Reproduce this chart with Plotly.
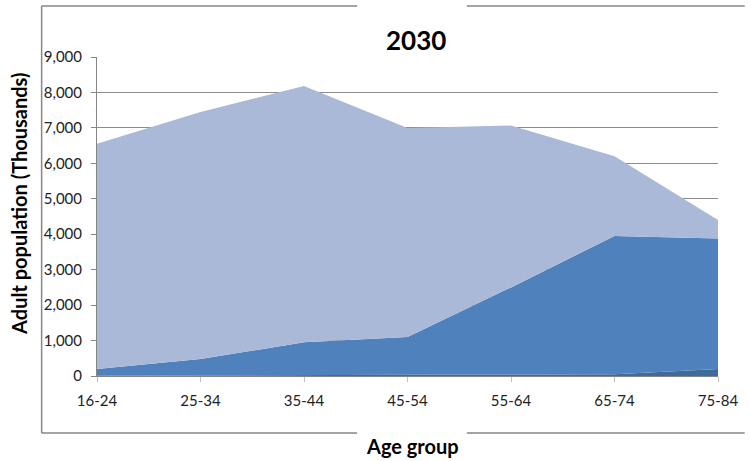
import plotly.graph_objects as go

categories = ["16-24", "25-34", "35-44", "45-54", "55-64", "65-74", "75-84"]
bottom_vals = [5, 10, 20, 25, 40, 50, 200]
middle_vals = [195, 470, 930, 1075, 2460, 3900, 3680]
top_vals = [6350, 6970, 7230, 5900, 4570, 2250, 520]

fig = go.Figure()
for name, vals, col in [("Bottom", bottom_vals, "#3F6A9E"),
                        ("Middle", middle_vals, "#4F81BD"),
                        ("Top", top_vals, "#AAB9D7")]:
    fig.add_trace(go.Scatter(x=categories, y=vals, name=name, mode="lines",
                             stackgroup="one", line=dict(width=0, color=col),
                             fillcolor=col, hoverinfo="x+y"))

L, R, T, B = 97, 25, 57, 85
W, H = 750, 461
pw, ph = W - L - R, H - T - B
def px(x): return (x - L) / pw
def py(y): return (H - B - y) / ph

border = dict(color="#868686", width=1.5)
shapes = [
    dict(type="line", xref="paper", yref="paper", x0=px(41), x1=px(41), y0=py(6), y1=py(433), line=border),
    dict(type="line", xref="paper", yref="paper", x0=px(41), x1=px(360), y0=py(6), y1=py(6), line=border),
    dict(type="line", xref="paper", yref="paper", x0=px(471), x1=px(752), y0=py(6), y1=py(6), line=border),
    dict(type="line", xref="paper", yref="paper", x0=px(41), x1=px(360), y0=py(433), y1=py(433), line=border),
    dict(type="line", xref="paper", yref="paper", x0=px(471), x1=px(752), y0=py(433), y1=py(433), line=border),
]

fig.update_layout(
    width=W, height=H,
    margin=dict(l=L, r=R, t=T, b=B),
    paper_bgcolor="white", plot_bgcolor="white",
    showlegend=False,
    font=dict(family="Lato, Open Sans, sans-serif", color="#222222"),
    shapes=shapes,
    annotations=[
        dict(text="<b>2030</b>", xref="paper", yref="paper", x=px(420), y=py(40),
             showarrow=False, font=dict(size=26, color="black"), xanchor="center", yanchor="middle"),
        dict(text="<b>Adult population (Thousands)</b>", xref="paper", yref="paper",
             x=px(18), y=py(204), textangle=-90, showarrow=False,
             font=dict(size=20, color="black"), xanchor="center", yanchor="middle"),
        dict(text="<b>Age group</b>", xref="paper", yref="paper", x=px(416), y=py(446),
             showarrow=False, font=dict(size=20, color="black"), xanchor="center", yanchor="middle"),
    ],
)
fig.update_xaxes(type="category", range=[0, 6], showgrid=False, showline=True,
                 linecolor="#868686", linewidth=1, ticks="outside", ticklen=5,
                 tickcolor="#BFBFBF", tickfont=dict(size=15, color="#222222"),
                 ticklabelstandoff=6)
fig.update_yaxes(range=[0, 9000], dtick=1000, tickformat=",", showgrid=True,
                 gridcolor="#8C8C8C", gridwidth=1, showline=True, linecolor="#868686",
                 linewidth=1, ticks="outside", ticklen=5, tickcolor="#868686",
                 tickfont=dict(size=15, color="#222222"), ticklabelstandoff=6,
                 zeroline=False)

fig.write_html("out.html", config={"displayModeBar": False},
               post_script="document.body.style.margin='0';document.body.style.overflow='hidden';")
